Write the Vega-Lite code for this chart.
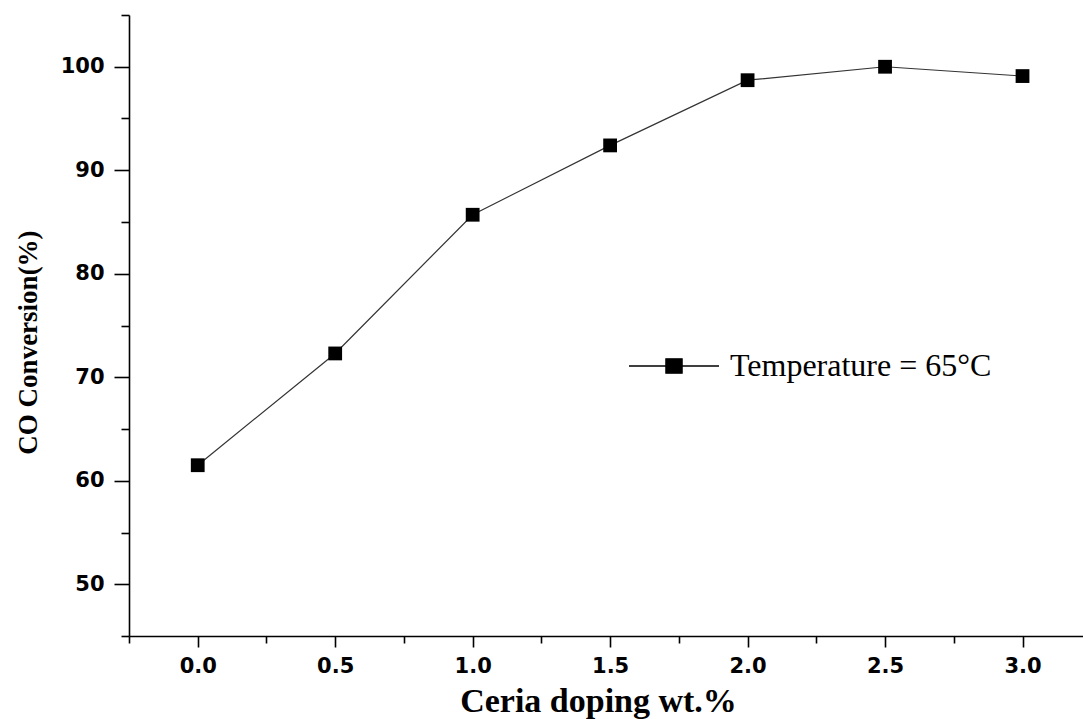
{
  "$schema": "https://vega.github.io/schema/vega-lite/v6.json",
  "width": 954,
  "height": 621,
  "autosize": {"type": "none"},
  "padding": {"left": 129, "top": 15, "right": 0, "bottom": 83},
  "background": "white",
  "config": {
    "view": {"stroke": null},
    "axis": {
      "grid": false,
      "domainColor": "black",
      "tickColor": "black",
      "domainWidth": 1.6,
      "tickWidth": 1.6,
      "labelColor": "black",
      "titleColor": "black"
    }
  },
  "data": {
    "values": [
      {"wt": 0.0, "conv": 61.5, "series": "Temperature = 65°C"},
      {"wt": 0.5, "conv": 72.3, "series": "Temperature = 65°C"},
      {"wt": 1.0, "conv": 85.7, "series": "Temperature = 65°C"},
      {"wt": 1.5, "conv": 92.4, "series": "Temperature = 65°C"},
      {"wt": 2.0, "conv": 98.7, "series": "Temperature = 65°C"},
      {"wt": 2.5, "conv": 100.0, "series": "Temperature = 65°C"},
      {"wt": 3.0, "conv": 99.1, "series": "Temperature = 65°C"}
    ]
  },
  "layer": [
    {
      "mark": {"type": "line", "color": "#333333", "strokeWidth": 1.2},
      "encoding": {
        "x": {
          "field": "wt",
          "type": "quantitative",
          "scale": {"domain": [-0.25, 3.22], "nice": false, "zero": false},
          "axis": {
            "orient": "bottom",
            "values": [0, 0.5, 1, 1.5, 2, 2.5, 3],
            "format": ".1f",
            "labelFont": "DejaVu Sans",
            "labelFontWeight": "bold",
            "labelFontSize": 21,
            "tickSize": 11,
            "labelPadding": 8,
            "title": "Ceria doping wt.%",
            "titleFont": "Liberation Serif",
            "titleFontSize": 34,
            "titleFontWeight": "bold",
            "titlePadding": 8,
            "titleX": 469
          }
        },
        "y": {
          "field": "conv",
          "type": "quantitative",
          "scale": {"domain": [45, 105], "nice": false, "zero": false},
          "axis": {
            "orient": "left",
            "values": [50, 60, 70, 80, 90, 100],
            "labelFont": "DejaVu Sans",
            "labelFontWeight": "bold",
            "labelFontSize": 21,
            "tickSize": 15,
            "labelPadding": 10,
            "title": "CO Conversion(%)",
            "titleFont": "Liberation Serif",
            "titleFontSize": 27,
            "titleFontWeight": "bold",
            "titlePadding": 18,
            "titleY": 327
          }
        }
      }
    },
    {
      "mark": {"type": "point", "shape": "square", "filled": true, "size": 190, "opacity": 1},
      "encoding": {
        "x": {
          "field": "wt",
          "type": "quantitative",
          "axis": {
            "orient": "bottom",
            "values": [-0.25, 0.25, 0.75, 1.25, 1.75, 2.25, 2.75],
            "labels": false,
            "domain": false,
            "tickSize": 7,
            "title": null
          }
        },
        "y": {
          "field": "conv",
          "type": "quantitative",
          "axis": {
            "orient": "left",
            "values": [45, 55, 65, 75, 85, 95, 105],
            "labels": false,
            "domain": false,
            "tickSize": 8,
            "title": null
          }
        },
        "color": {
          "field": "series",
          "type": "nominal",
          "scale": {"range": ["black"]},
          "legend": {
            "title": null,
            "orient": "none",
            "legendX": 499,
            "legendY": 305,
            "padding": 0,
            "symbolType": "M-1,0L-0.18,0M-0.18,-0.16L0.18,-0.16L0.18,0.16L-0.18,0.16ZM0.18,0L1,0",
            "symbolSize": 8100,
            "symbolFillColor": "black",
            "symbolStrokeColor": "black",
            "symbolStrokeWidth": 1.3,
            "symbolOpacity": 1,
            "labelFont": "Liberation Serif",
            "labelFontSize": 32,
            "labelColor": "black",
            "labelOffset": 10,
            "labelLimit": 0,
            "encode": {
              "symbols": {
                "update": {
                  "fill": {"value": "black"},
                  "stroke": {"value": "black"},
                  "strokeWidth": {"value": 1.3},
                  "opacity": {"value": 1}
                }
              }
            }
          }
        }
      }
    }
  ],
  "resolve": {"axis": {"x": "independent", "y": "independent"}}
}
